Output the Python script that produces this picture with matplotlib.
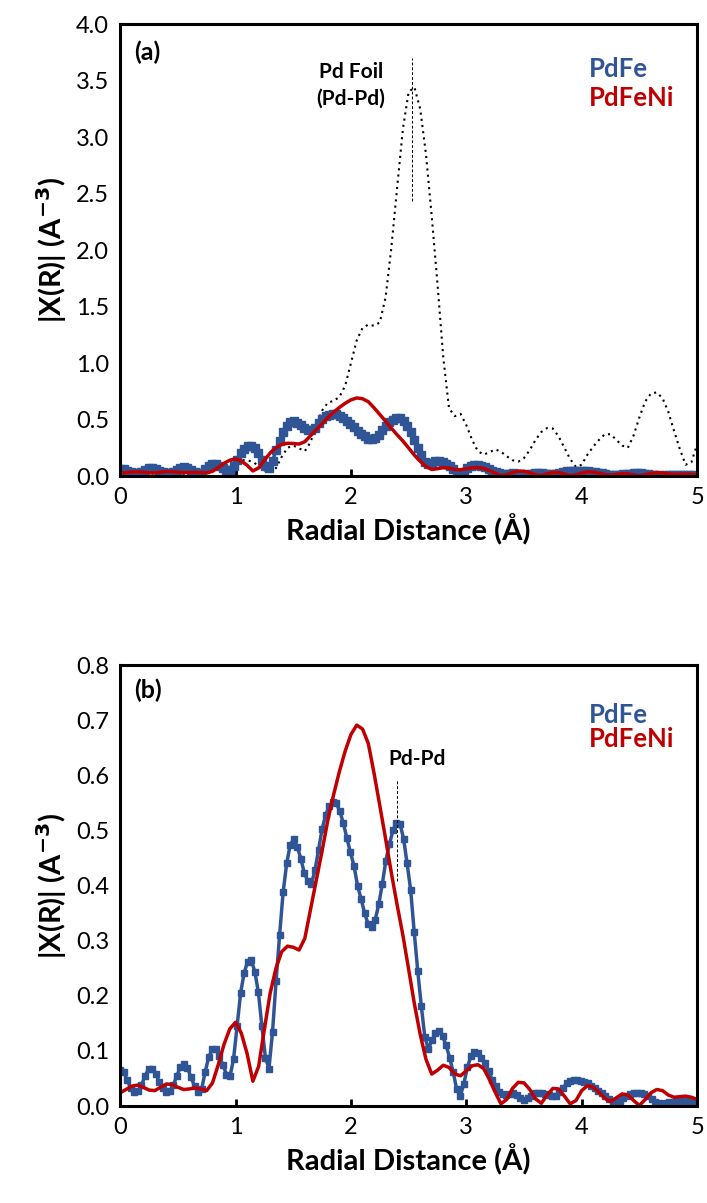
import numpy as np
import matplotlib
matplotlib.use("Agg")
import matplotlib.pyplot as plt

plt.rcParams['font.family'] = ['Lato', 'DejaVu Sans']

# PdFe: markers on the FT grid (dr = 0.0307 A)
r_fe = np.arange(163) * 0.0307
chi_fe = [0.065, 0.061, 0.047, 0.032, 0.025, 0.027, 0.038, 0.054, 0.067, 0.068,
          0.059, 0.044, 0.033, 0.026, 0.027, 0.038, 0.055, 0.071, 0.077, 0.069,
          0.052, 0.036, 0.026, 0.031, 0.062, 0.089, 0.103, 0.104, 0.090, 0.075,
          0.057, 0.054, 0.085, 0.145, 0.205, 0.242, 0.262, 0.265, 0.244, 0.207,
          0.145, 0.088, 0.068, 0.134, 0.226, 0.310, 0.388, 0.440, 0.474, 0.484,
          0.470, 0.449, 0.422, 0.408, 0.403, 0.428, 0.465, 0.502, 0.528, 0.544,
          0.551, 0.549, 0.535, 0.513, 0.486, 0.460, 0.436, 0.400, 0.376, 0.350,
          0.330, 0.325, 0.338, 0.366, 0.403, 0.445, 0.475, 0.500, 0.514, 0.512,
          0.485, 0.440, 0.392, 0.316, 0.245, 0.182, 0.125, 0.104, 0.119, 0.132,
          0.136, 0.127, 0.110, 0.088, 0.062, 0.030, 0.018, 0.040, 0.070, 0.090,
          0.098, 0.096, 0.087, 0.078, 0.064, 0.048, 0.036, 0.026, 0.021, 0.020,
          0.022, 0.024, 0.020, 0.014, 0.011, 0.014, 0.019, 0.023, 0.024, 0.024,
          0.022, 0.020, 0.018, 0.019, 0.025, 0.033, 0.041, 0.046, 0.048, 0.048,
          0.046, 0.044, 0.041, 0.037, 0.032, 0.028, 0.024, 0.018, 0.012, 0.007,
          0.007, 0.010, 0.014, 0.018, 0.021, 0.023, 0.024, 0.024, 0.022, 0.018,
          0.013, 0.008, 0.005, 0.004, 0.005, 0.007, 0.008, 0.009, 0.010, 0.010,
          0.010, 0.010, 0.009]

# PdFeNi and Pd foil, read every 0.05 A
r_ni = np.arange(101) * 0.05
chi_ni = [0.024, 0.030, 0.036, 0.038, 0.034, 0.029, 0.028, 0.034, 0.040, 0.039,
          0.034, 0.030, 0.031, 0.033, 0.031, 0.028, 0.042, 0.075, 0.112, 0.140,
          0.152, 0.132, 0.095, 0.045, 0.072, 0.140, 0.205, 0.250, 0.280, 0.290,
          0.288, 0.283, 0.304, 0.357, 0.410, 0.463, 0.519, 0.565, 0.607, 0.644,
          0.674, 0.691, 0.684, 0.658, 0.604, 0.545, 0.485, 0.423, 0.365, 0.310,
          0.248, 0.185, 0.130, 0.085, 0.058, 0.065, 0.074, 0.070, 0.058, 0.055,
          0.064, 0.073, 0.075, 0.068, 0.048, 0.025, 0.004, 0.012, 0.032, 0.043,
          0.042, 0.030, 0.013, 0.005, 0.020, 0.032, 0.031, 0.018, 0.004, 0.010,
          0.028, 0.037, 0.034, 0.025, 0.014, 0.008, 0.015, 0.022, 0.020, 0.010,
          0.001, 0.012, 0.024, 0.030, 0.028, 0.020, 0.016, 0.017, 0.018, 0.016,
          0.012]
chi_foil = [0.020, 0.020, 0.018, 0.015, 0.018, 0.022, 0.020, 0.016, 0.015, 0.018,
            0.022, 0.020, 0.016, 0.015, 0.018, 0.028, 0.045, 0.070, 0.095, 0.115,
            0.130, 0.140, 0.140, 0.125, 0.090, 0.050, 0.030, 0.070, 0.170, 0.250,
            0.270, 0.245, 0.220, 0.300, 0.450, 0.580, 0.650, 0.665, 0.700, 0.800,
            1.000, 1.200, 1.310, 1.340, 1.330, 1.360, 1.580, 2.020, 2.550, 3.070,
            3.400, 3.440, 3.250, 2.850, 2.300, 1.700, 1.050, 0.600, 0.530, 0.550,
            0.450, 0.320, 0.220, 0.190, 0.210, 0.236, 0.215, 0.175, 0.140, 0.127,
            0.160, 0.230, 0.320, 0.390, 0.425, 0.420, 0.350, 0.250, 0.150, 0.080,
            0.100, 0.190, 0.260, 0.320, 0.370, 0.370, 0.320, 0.270, 0.250, 0.360,
            0.520, 0.660, 0.730, 0.740, 0.690, 0.570, 0.400, 0.240, 0.100, 0.120,
            0.280]

blue = '#2F5597'
red = '#C00000'

fig = plt.figure(figsize=(7.07, 12.03), dpi=100)
ax1 = fig.add_axes([0.170, 0.6043, 0.816, 0.3757])
ax2 = fig.add_axes([0.170, 0.0806, 0.816, 0.3666])


def style(ax, ymax, step):
    ax.set_xlim(0, 5)
    ax.set_ylim(0, ymax)
    ax.set_xticks(range(6))
    ax.set_yticks(np.arange(0, ymax + step / 2, step))
    ax.yaxis.set_major_formatter(matplotlib.ticker.FormatStrFormatter('%.1f'))
    ax.tick_params(axis='x', direction='in', length=5, width=2, labelsize=17, pad=8)
    ax.tick_params(axis='y', length=0, labelsize=17, pad=8)
    for s in ax.spines.values():
        s.set_linewidth(2.2)
    ax.set_xlabel('Radial Distance (Å)', fontsize=21, fontweight='bold', labelpad=4)
    ax.set_ylabel('|X(R)| (A$^{\\mathbf{-3}}$)', fontsize=21, fontweight='bold', labelpad=5)


# (a)
ax1.plot(r_ni, chi_foil, color='black', linestyle=(0, (1, 2)), linewidth=1.5)
ax1.plot(r_fe, chi_fe, color=blue, linewidth=2.5, marker='s', markersize=5.5)
ax1.plot(r_ni, chi_ni, color=red, linewidth=2.5)
ax1.plot([2.53, 2.53], [2.43, 3.7], color='black', linestyle='--', linewidth=0.7, dashes=(3, 2))
style(ax1, 4.0, 0.5)
ax1.text(0.12, 3.75, '(a)', fontsize=18, fontweight='bold', va='center')
ax1.text(2.0, 3.58, 'Pd Foil', fontsize=15, fontweight='bold', ha='center', va='center')
ax1.text(2.0, 3.34, '(Pd-Pd)', fontsize=15, fontweight='bold', ha='center', va='center')
ax1.text(4.06, 3.6, 'PdFe', fontsize=18.5, fontweight='bold', color=blue, va='center')
ax1.text(4.06, 3.35, 'PdFeNi', fontsize=18.5, fontweight='bold', color=red, va='center')

# (b)
ax2.plot(r_fe, chi_fe, color=blue, linewidth=2.5, marker='s', markersize=5)
ax2.plot(r_ni, chi_ni, color=red, linewidth=2.5)
ax2.plot([2.40, 2.40], [0.408, 0.593], color='black', linestyle='--', linewidth=0.7, dashes=(3, 2))
style(ax2, 0.8, 0.1)
ax2.text(0.12, 0.755, '(b)', fontsize=18, fontweight='bold', va='center')
ax2.text(2.57, 0.63, 'Pd-Pd', fontsize=15, fontweight='bold', ha='center', va='center')
ax2.text(4.06, 0.71, 'PdFe', fontsize=18.5, fontweight='bold', color=blue, va='center')
ax2.text(4.06, 0.666, 'PdFeNi', fontsize=18.5, fontweight='bold', color=red, va='center')

fig.savefig('out.png', dpi=100)
